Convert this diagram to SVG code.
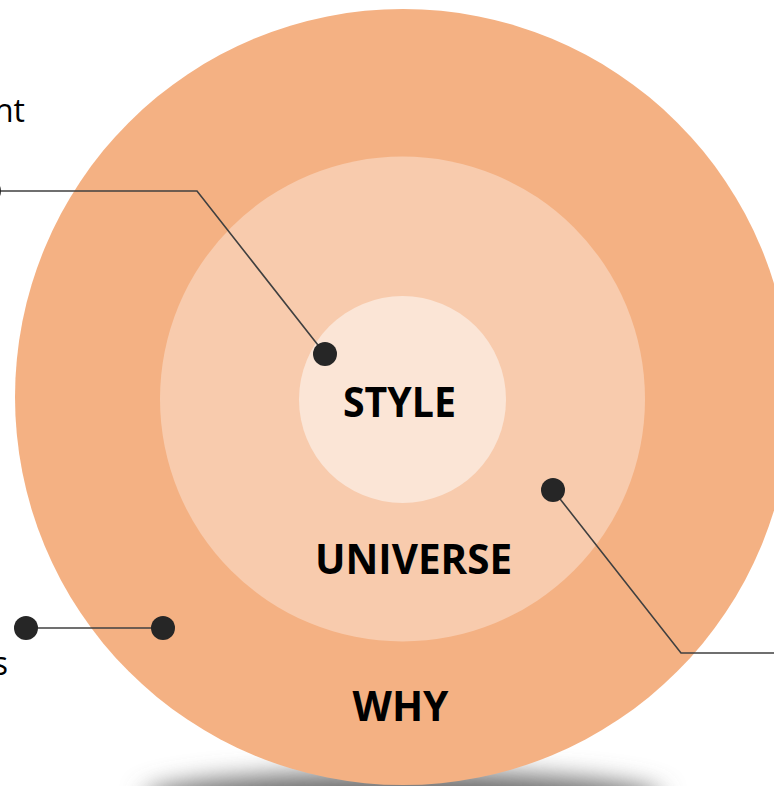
<svg xmlns="http://www.w3.org/2000/svg" width="774" height="786" viewBox="0 0 774 786">
  <style>
    .lbl { font-family: "Open Sans", "Liberation Sans", sans-serif; font-weight: 700; font-size: 42px; fill: #000; text-anchor: middle; }
    .side { font-family: "Open Sans", "Liberation Sans", sans-serif; font-size: 32px; fill: #000; }
    .conn { fill: none; stroke: #404040; stroke-width: 1.6; }
    .dot { fill: #262626; }
  </style>
  <defs>
    <filter id="blur" x="-50%" y="-100%" width="200%" height="300%">
      <feGaussianBlur stdDeviation="12"/>
    </filter>
  </defs>
  <rect width="774" height="786" fill="#ffffff"/>
  <ellipse cx="403" cy="798" rx="260" ry="26" fill="#6e6e6e" filter="url(#blur)"/>
  <g id="why">
    <circle cx="403" cy="397" r="388" fill="#F4B183"/>
    <text class="lbl" x="400.5" y="721" textLength="96" lengthAdjust="spacingAndGlyphs">WHY</text>
  </g>
  <g id="universe">
    <circle cx="402.5" cy="399" r="242.5" fill="#F8CBAD"/>
    <text class="lbl" x="413.5" y="574" textLength="197" lengthAdjust="spacingAndGlyphs">UNIVERSE</text>
  </g>
  <g id="style">
    <circle cx="402.5" cy="399.5" r="103.5" fill="#FBE5D6"/>
    <text class="lbl" x="399.5" y="417" textLength="113" lengthAdjust="spacingAndGlyphs">STYLE</text>
  </g>
  <g id="side-labels">
    <text class="side" x="25" y="122" text-anchor="end">nt</text>
    <text class="side" x="8" y="675" text-anchor="end">s</text>
  </g>
  <g id="connectors">
    <polyline class="conn" points="-11,191 197,191 325,354"/>
    <circle class="dot" cx="-11" cy="191" r="12"/>
    <circle class="dot" cx="325" cy="354" r="12"/>
    <polyline class="conn" points="553,490 681,653 780,653"/>
    <circle class="dot" cx="553" cy="490" r="12"/>
    <line class="conn" x1="26" y1="628" x2="163" y2="628"/>
    <circle class="dot" cx="26" cy="628" r="12"/>
    <circle class="dot" cx="163" cy="628" r="12"/>
  </g>
</svg>
